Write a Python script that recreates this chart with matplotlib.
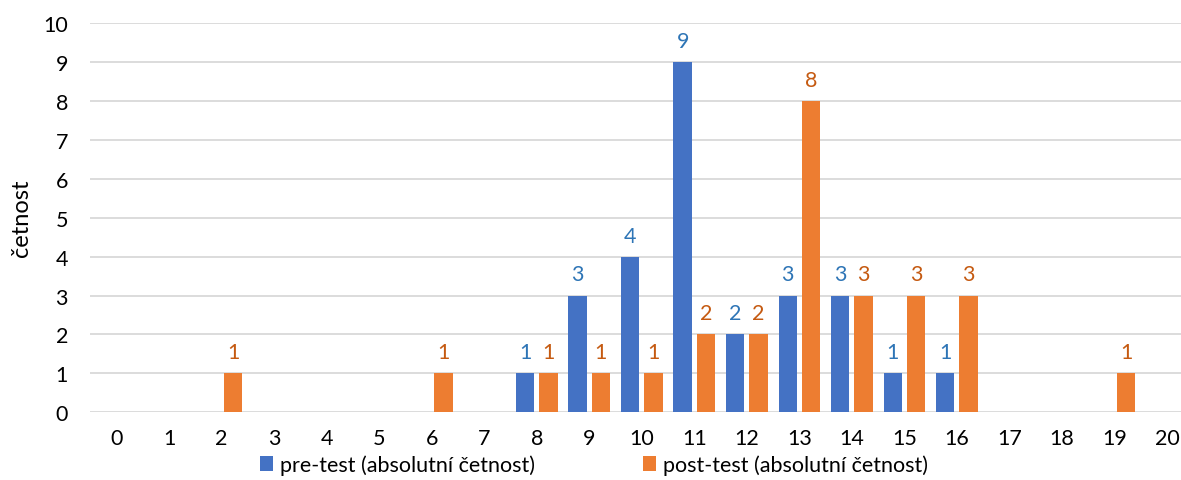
import numpy as np
import matplotlib
matplotlib.use("Agg")
import matplotlib.pyplot as plt

plt.rcParams['font.family'] = ['Lato', 'DejaVu Sans']

body = list(range(0, 21))
pre = [0, 0, 0, 0, 0, 0, 0, 0, 1, 3, 4, 9, 2, 3, 3, 1, 1, 0, 0, 0, 0]
post = [0, 0, 1, 0, 0, 0, 1, 0, 1, 1, 1, 2, 2, 8, 3, 3, 3, 0, 0, 1, 0]
pre_name = 'pre-test (absolutní četnost)'
post_name = 'post-test (absolutní četnost)'

blue, orange = '#4472C4', '#ED7D31'
blue_txt, orange_txt = '#2E75B6', '#C55A11'

fig = plt.figure(figsize=(11.81, 4.81), dpi=100)
ax = fig.add_axes([90.3 / 1181, 0.1407, 1103 / 1181, 0.8093])

x = np.arange(len(body))
w = 0.35
off = 0.222
b1 = ax.bar(x - off, pre, w, color=blue, label=pre_name, zorder=3)
b2 = ax.bar(x + off, post, w, color=orange, label=post_name, zorder=3)

for bars, vals, c in [(b1, pre, blue_txt), (b2, post, orange_txt)]:
    for r, v in zip(bars, vals):
        if v == 0:
            continue
        ax.annotate(str(v), (r.get_x() + r.get_width() / 2, v),
                    xytext=(0, 8), textcoords='offset points',
                    ha='center', va='bottom', fontsize=15.5, color=c)

ax.set_xlim(-0.5, 20.5)
ax.set_ylim(0, 10)
ax.set_yticks(range(0, 11))
ax.set_xticks(x)
ax.set_xticklabels([str(b) for b in body])
ax.tick_params(length=0, labelsize=15.5, colors='#000000')
ax.tick_params(axis='y', pad=16)
ax.tick_params(axis='x', pad=11)
ax.yaxis.grid(True, color='#D9D9D9', lw=1.3, zorder=0)
for s in ax.spines.values():
    s.set_visible(False)

ax.set_ylabel('četnost', fontsize=17, labelpad=8)

fig.legend(handles=[b1, b2], loc='center', bbox_to_anchor=(594 / 1181, 1 - 466 / 481),
           ncol=2, frameon=False, fontsize=15.5, handlelength=0.6, handleheight=0.7,
           handletextpad=0.35, columnspacing=5.0)

fig.savefig('out.png', dpi=100)
